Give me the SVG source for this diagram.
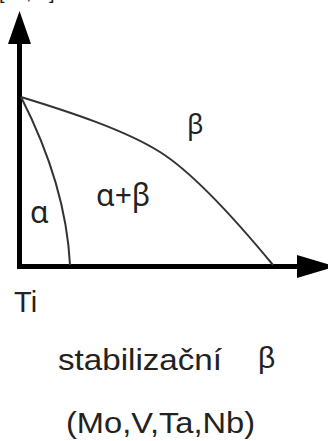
<svg xmlns="http://www.w3.org/2000/svg" width="328" height="441" viewBox="0 0 328 441">
<style>
.axis{stroke:#000;stroke-width:5;fill:none}
.head{fill:#000}
.curve{stroke:#333;stroke-width:2;fill:none}
.lbl{font-family:"Liberation Sans",Arial,sans-serif;fill:#222}
.phase{font-family:"Noto Sans","DejaVu Sans",sans-serif;fill:#222}
</style>
<rect width="328" height="441" fill="#fff"/>
<g id="axes">
<line class="axis" x1="19.5" y1="40" x2="19.5" y2="269"/>
<polygon class="head" points="19.5,11 31,44 8,44"/>
<line class="axis" x1="17" y1="266.5" x2="300" y2="266.5"/>
<polygon class="head" points="297,255 336,266.5 297,278"/>
</g>
<g id="connectors">
<path class="curve" d="M21,97 C70,112 125,130 160,152 C195,174 240,225 273,265"/>
<path class="curve" d="M21,97 Q66,185 70,265"/>
</g>
<g id="labels">
<text class="lbl" font-size="20"><tspan x="-1" y="-1">[</tspan><tspan x="26" y="-1">,</tspan><tspan x="49" y="-1">]</tspan></text>
<text id="beta" class="phase" x="187" y="134" font-size="27">β</text>
<text id="alphabeta" class="phase" x="96" y="206" font-size="30">α+β</text>
<text id="alpha" class="phase" x="30" y="223" font-size="30">α</text>
<text id="ti" class="lbl" x="14" y="312" font-size="29">Ti</text>
<text id="stab" class="lbl" x="58" y="370" font-size="30" textLength="164" lengthAdjust="spacingAndGlyphs">stabilizační</text>
<text id="stabbeta" class="lbl" x="258" y="368" font-size="30">β</text>
<text id="elements" class="lbl" x="66" y="433" font-size="30" textLength="189" lengthAdjust="spacingAndGlyphs">(Mo,V,Ta,Nb)</text>
</g>
</svg>
